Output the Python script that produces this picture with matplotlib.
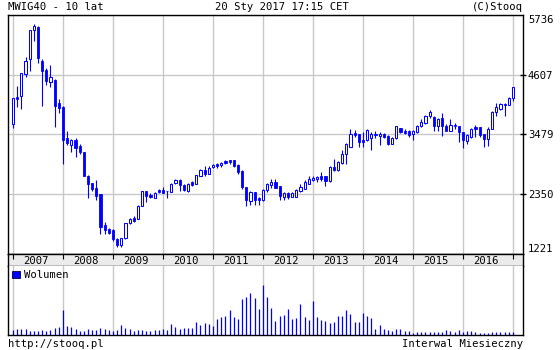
import numpy as np
import matplotlib
matplotlib.use('Agg')
import matplotlib.pyplot as plt
from matplotlib.patches import Patch

# monthly candles Jan 2007 .. Jan 2017
opens = [3680, 4194, 4200, 4621, 4903, 5460, 5516, 4871, 4702, 4463, 4513, 4075,
         4006, 3404, 3285, 3366, 3253, 3140, 2689, 2557, 2463, 2350, 1760, 1692,
         1673, 1498, 1391, 1517, 1811, 1904, 1874, 2130, 2407, 2345, 2288, 2426,
         2426, 2420, 2395, 2570, 2614, 2533, 2413, 2582, 2552, 2695, 2815, 2740,
         2865, 2915, 2896, 2977, 2990, 2990, 2896, 2790, 2489, 2225, 2394, 2270,
         2250, 2426, 2520, 2582, 2501, 2300, 2382, 2300, 2300, 2413, 2457, 2552,
         2614, 2633, 2689, 2689, 2600, 2864, 2802, 2946, 3116, 3240, 3511, 3492,
         3379, 3379, 3417, 3492, 3442, 3479, 3442, 3304, 3417, 3605, 3554, 3554,
         3492, 3523, 3630, 3699, 3836, 3817, 3648, 3793, 3648, 3554, 3661, 3648,
         3535, 3354, 3429, 3617, 3617, 3479, 3398, 3586, 3899, 3962, 4056, 4043,
         4162]
highs = [4169, 4401, 4645, 4946, 5450, 5561, 5530, 4903, 4734, 4796, 4520, 4150,
         4025, 3554, 3385, 3417, 3304, 3146, 2708, 2570, 2614, 2363, 1818, 1705,
         1686, 1517, 1529, 1799, 1893, 1942, 2143, 2420, 2420, 2364, 2395, 2445,
         2489, 2420, 2570, 2646, 2633, 2540, 2560, 2595, 2715, 2830, 2890, 2880,
         2920, 2946, 2960, 3003, 2995, 2995, 2915, 2800, 2489, 2420, 2394, 2300,
         2445, 2560, 2640, 2640, 2501, 2395, 2395, 2395, 2440, 2550, 2610, 2689,
         2689, 2700, 2770, 2689, 2880, 3022, 2970, 3191, 3316, 3586, 3560, 3492,
         3523, 3586, 3530, 3540, 3520, 3500, 3460, 3430, 3645, 3605, 3575, 3565,
         3555, 3660, 3770, 3850, 3943, 3836, 3790, 3880, 3680, 3774, 3700, 3648,
         3535, 3480, 3600, 3650, 3617, 3490, 3617, 3920, 4068, 4068, 4068, 4180,
         4382]
lows = [3605, 3993, 3955, 4557, 4670, 5247, 4820, 4025, 4420, 4382, 3629, 3880,
        2915, 3272, 3146, 3052, 3103, 2689, 2281, 2407, 2238, 1598, 1598, 1598,
        1472, 1359, 1347, 1498, 1786, 1817, 1874, 2130, 2206, 2270, 2270, 2364,
        2364, 2270, 2390, 2552, 2407, 2420, 2400, 2510, 2540, 2690, 2690, 2730,
        2850, 2840, 2860, 2930, 2920, 2870, 2740, 2445, 2125, 2150, 2150, 2150,
        2230, 2400, 2470, 2470, 2250, 2250, 2260, 2290, 2290, 2400, 2450, 2540,
        2600, 2590, 2600, 2501, 2590, 2790, 2790, 2915, 2915, 3240, 3440, 3240,
        3240, 3360, 3191, 3420, 3280, 3410, 3280, 3290, 3400, 3505, 3490, 3430,
        3379, 3505, 3620, 3680, 3793, 3554, 3554, 3447, 3540, 3540, 3580, 3335,
        3222, 3300, 3420, 3440, 3440, 3240, 3270, 3575, 3836, 3950, 3836, 4030,
        4120]
closes = [4169, 4143, 4640, 4871, 5450, 5530, 4933, 4670, 4482, 4570, 4025, 3974,
          3379, 3315, 3366, 3229, 3146, 2695, 2551, 2444, 2318, 1735, 1673, 1622,
          1498, 1391, 1529, 1799, 1874, 1848, 2130, 2407, 2318, 2300, 2364, 2394,
          2382, 2407, 2552, 2614, 2520, 2426, 2552, 2533, 2708, 2815, 2727, 2852,
          2896, 2877, 2946, 2946, 2960, 2877, 2770, 2489, 2238, 2394, 2238, 2240,
          2426, 2552, 2582, 2476, 2318, 2382, 2300, 2364, 2426, 2489, 2582, 2630,
          2658, 2677, 2646, 2595, 2864, 2802, 2958, 3103, 3304, 3492, 3467, 3335,
          3335, 3567, 3492, 3467, 3492, 3429, 3291, 3410, 3630, 3523, 3511, 3460,
          3536, 3648, 3710, 3836, 3898, 3648, 3774, 3648, 3554, 3661, 3630, 3535,
          3379, 3460, 3586, 3586, 3460, 3398, 3586, 3912, 3993, 4056, 4037, 4162,
          4382]
volumes = [15, 17, 19, 19, 13, 13, 13, 16, 13, 16, 21, 24,
           75, 27, 24, 18, 12, 12, 19, 15, 15, 21, 18, 16,
           13, 16, 30, 21, 18, 13, 15, 15, 13, 13, 15, 16,
           18, 15, 33, 24, 18, 21, 21, 21, 39, 30, 36, 33,
           27, 48, 54, 57, 75, 54, 48, 105, 111, 123, 108, 78,
           147, 111, 81, 42, 57, 60, 78, 48, 51, 93, 54, 45,
           102, 54, 45, 42, 36, 39, 57, 57, 75, 63, 39, 39,
           66, 57, 51, 18, 30, 18, 15, 12, 18, 18, 12, 12,
           6, 9, 9, 9, 9, 9, 9, 9, 15, 12, 9, 15,
           9, 12, 12, 9, 6, 6, 6, 9, 9, 9, 9, 9,
           9]
years = ['2007', '2008', '2009', '2010', '2011', '2012', '2013', '2014', '2015', '2016']
price_ticks = [1221, 2350, 3479, 4607, 5736]

blue = '#0000ff'
grid_c = '#c8c8c8'
plt.rcParams['font.family'] = 'DejaVu Sans Mono'
plt.rcParams['font.size'] = 7.6

W, H = 560, 350
fig = plt.figure(figsize=(W / 100, H / 100), dpi=100)


def frac(x0, y0, x1, y1):
    return [x0 / W, 1 - y1 / H, (x1 - x0) / W, (y1 - y0) / H]


ax = fig.add_axes(frac(8, 15, 523, 254))
axs = fig.add_axes(frac(8, 254, 523, 266))
axv = fig.add_axes(frac(8, 266, 523, 335))

idx = np.arange(len(opens))
o = np.array(opens)
c = np.array(closes)
up = c >= o
jan = idx[::12]
xlim = (-1.2, 122.4)

# price candles
ax.vlines(idx, lows, highs, color=blue, lw=0.8, zorder=2)
ax.bar(idx[~up], (o - c)[~up], bottom=c[~up], width=0.55, color=blue,
       edgecolor=blue, lw=0.6, zorder=3)
ax.bar(idx[up], (c - o)[up], bottom=o[up], width=0.55, color='white',
       edgecolor=blue, lw=0.75, zorder=3)
ax.set_xlim(*xlim)
ax.set_ylim(price_ticks[0], price_ticks[-1])
ax.set_xticks(jan)
ax.set_xticklabels([])
ax.tick_params(axis='x', length=0)
ax.set_yticks(price_ticks)
ax.yaxis.tick_right()
ax.tick_params(axis='y', direction='inout', length=5, width=1, pad=1)
labels = ax.get_yticklabels()
labels[0].set_va('bottom')
labels[-1].set_va('top')
for t in [ax.yaxis.get_major_ticks()[0], ax.yaxis.get_major_ticks()[-1]]:
    t.tick2line.set_visible(False)
ax.grid(True, color=grid_c, lw=1, zorder=0)
for s in ax.spines.values():
    s.set_linewidth(1)

# year strip
axs.set_facecolor('#ebebeb')
axs.set_xlim(*xlim)
axs.set_ylim(0, 1)
axs.set_yticks([])
axs.set_xticks([])
axs.vlines(jan, 0.6, 1, color='black', lw=0.8)
for k, yr in enumerate(years):
    axs.text(12 * k + 5.5, 0.45, yr, ha='center', va='center')
for s in axs.spines.values():
    s.set_linewidth(1)

# volume
axv.vlines(idx, 0, volumes, color=blue, lw=0.9, zorder=2)
axv.set_xlim(*xlim)
axv.set_ylim(0, 204)
axv.set_xticks(jan)
axv.set_xticklabels([])
axv.set_yticks([])
axv.tick_params(axis='x', length=0)
axv.grid(True, axis='x', color=grid_c, lw=1, zorder=0)
axv.spines['top'].set_visible(False)
for s in axv.spines.values():
    s.set_linewidth(1)
axv.legend(handles=[Patch(facecolor=blue, edgecolor='#000044', lw=0.6)],
           labels=['Wolumen'], loc='upper left', frameon=False,
           handlelength=0.7, handleheight=0.7, handletextpad=0.4,
           borderaxespad=0.2, borderpad=0.2)

# header / footer texts
fig.text(8 / W, 1 - 7 / H, 'MWIG40 - 10 lat', ha='left', va='center')
fig.text(282 / W, 1 - 7 / H, '20 Sty 2017 17:15 CET', ha='center', va='center')
fig.text(523 / W, 1 - 7 / H, '(C)Stooq', ha='right', va='center')
fig.text(8 / W, 1 - 344 / H, 'http://stooq.pl', ha='left', va='center')
fig.text(523 / W, 1 - 344 / H, 'Interwal Miesieczny', ha='right', va='center')

fig.savefig('out.png', dpi=100)
